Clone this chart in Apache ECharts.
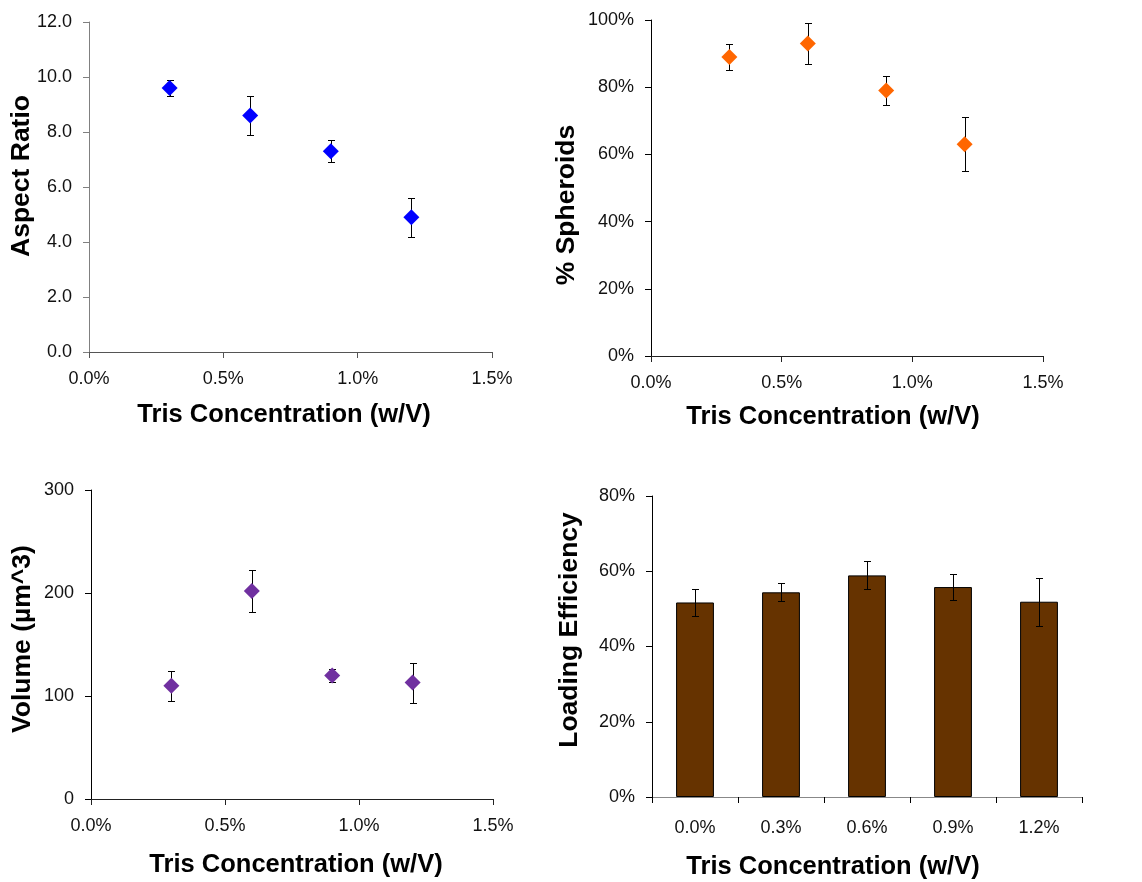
<!DOCTYPE html>
<html>
<head>
<meta charset="utf-8">
<script src="https://cdn.jsdelivr.net/npm/echarts@6/dist/echarts.min.js"></script>
<style>
  html, body { margin: 0; padding: 0; background: #fff; }
  #chart { width: 1142px; height: 882px; }
</style>
</head>
<body>
<div id="chart"></div>
<script>
// Tris concentration (% w/V) used for the scatter panels
const trisConc = [0.3, 0.6, 0.9, 1.2];

// Aspect ratio (mean, error)
const aspectRatio = [9.6, 8.6, 7.3, 4.9];
const aspectRatioErr = [0.28, 0.7, 0.4, 0.7];

// Percentage of spheroids (mean, error)
const spheroids = [89, 93, 79, 63];
const spheroidsErr = [4, 6, 4.4, 8];

// Particle volume in µm^3 (mean, error)
const volume = [110, 202, 120, 113];
const volumeErr = [14.5, 20, 6, 19.5];

// Loading efficiency per Tris concentration category
const loadingCats = ['0.0%', '0.3%', '0.6%', '0.9%', '1.2%'];
const loading = [51.7, 54.4, 58.9, 55.8, 51.9];
const loadingErr = [3.6, 2.4, 3.7, 3.5, 6.4];

const FONT = '"Liberation Sans", Arial, sans-serif';

function pairs(xs, ys, es) {
  return ys.map((y, i) => [xs[i], y, es[i]]);
}

// Vertical error bar with short caps
function errorBar(params, api) {
  const x = api.value(0), y = api.value(1), e = api.value(2);
  const hi = api.coord([x, y + e]);
  const lo = api.coord([x, y - e]);
  const cx = Math.round(hi[0]) + 0.5;
  const y1 = Math.round(hi[1]) + 0.5, y2 = Math.round(lo[1]) + 0.5;
  const w = 3.5;
  const st = { stroke: '#000', lineWidth: 1 };
  return {
    type: 'group',
    children: [
      { type: 'line', shape: { x1: cx, y1: y1, x2: cx, y2: y2 }, style: st },
      { type: 'line', shape: { x1: cx - w, y1: y1, x2: cx + w, y2: y1 }, style: st },
      { type: 'line', shape: { x1: cx - w, y1: y2, x2: cx + w, y2: y2 }, style: st }
    ]
  };
}

function valueXAxis(gridIndex, lineColor) {
  return {
    type: 'value', gridIndex: gridIndex, min: 0, max: 1.5, interval: 0.5,
    axisLine: { show: true, onZero: false, lineStyle: { color: lineColor, width: 1 } },
    axisTick: { show: true, length: 6, lineStyle: { color: lineColor } },
    splitLine: { show: false },
    axisLabel: { color: '#111', fontFamily: FONT, fontSize: 18, margin: 18,
      formatter: v => v.toFixed(1) + '%' }
  };
}

function valueYAxis(gridIndex, max, interval, fmt, lineColor) {
  return {
    type: 'value', gridIndex: gridIndex, min: 0, max: max, interval: interval,
    axisLine: { show: true, lineStyle: { color: lineColor, width: 1 } },
    axisTick: { show: true, length: 6, lineStyle: { color: lineColor } },
    splitLine: { show: false },
    axisLabel: { color: '#111', fontFamily: FONT, fontSize: 18, margin: 17, formatter: fmt }
  };
}

function title(text, x, y, vertical, size) {
  return {
    type: 'text', x: x, y: y, rotation: vertical ? Math.PI / 2 : 0,
    style: { text: text, fill: '#000', font: 'bold ' + size + 'px ' + FONT,
      textAlign: 'center', textVerticalAlign: 'middle' }
  };
}

const chart = echarts.init(document.getElementById('chart'), null, { renderer: 'canvas' });

const option = {
  backgroundColor: '#fff',
  animation: false,
  grid: [
    { left: 89, top: 22, width: 403, height: 330 },
    { left: 651, top: 20, width: 392, height: 336 },
    { left: 91, top: 490, width: 402, height: 309 },
    { left: 652, top: 496, width: 430, height: 301 }
  ],
  xAxis: [
    valueXAxis(0, '#555'),
    valueXAxis(1, '#222'),
    valueXAxis(2, '#222'),
    {
      type: 'category', gridIndex: 3, data: loadingCats, boundaryGap: true,
      axisLine: { show: true, lineStyle: { color: '#888' } },
      axisTick: { show: true, length: 6, lineStyle: { color: '#000' } },
      axisLabel: { color: '#111', fontFamily: FONT, fontSize: 18, margin: 22 }
    }
  ],
  yAxis: [
    valueYAxis(0, 12, 2, v => v.toFixed(1), '#808080'),
    valueYAxis(1, 100, 20, v => v + '%', '#000'),
    valueYAxis(2, 300, 100, v => String(v), '#000'),
    valueYAxis(3, 80, 20, v => v + '%', '#000')
  ],
  graphic: [
    title('Tris Concentration (w/V)', 284, 415, false, 25.5),
    title('Aspect Ratio', 22, 176, true, 26.5),
    title('Tris Concentration (w/V)', 833, 417, false, 25.5),
    title('% Spheroids', 567, 205, true, 26.5),
    title('Tris Concentration (w/V)', 296, 865, false, 25.5),
    title('Volume (µm^3)', 23, 639, true, 26.5),
    title('Tris Concentration (w/V)', 833, 867, false, 25.5),
    title('Loading Efficiency', 570, 630, true, 26.5)
  ],
  series: [
    { type: 'custom', xAxisIndex: 0, yAxisIndex: 0, z: 1, renderItem: errorBar,
      data: pairs(trisConc, aspectRatio, aspectRatioErr) },
    { type: 'scatter', xAxisIndex: 0, yAxisIndex: 0, z: 3, symbol: 'diamond', symbolSize: 16,
      itemStyle: { color: '#0000FF', opacity: 1 }, data: trisConc.map((x, i) => [x, aspectRatio[i]]) },

    { type: 'custom', xAxisIndex: 1, yAxisIndex: 1, z: 1, renderItem: errorBar,
      data: pairs(trisConc, spheroids, spheroidsErr) },
    { type: 'scatter', xAxisIndex: 1, yAxisIndex: 1, z: 3, symbol: 'diamond', symbolSize: 16,
      itemStyle: { color: '#FF6600', opacity: 1 }, data: trisConc.map((x, i) => [x, spheroids[i]]) },

    { type: 'custom', xAxisIndex: 2, yAxisIndex: 2, z: 1, renderItem: errorBar,
      data: pairs(trisConc, volume, volumeErr) },
    { type: 'scatter', xAxisIndex: 2, yAxisIndex: 2, z: 3, symbol: 'diamond', symbolSize: 16,
      itemStyle: { color: '#7030A0', opacity: 1 }, data: trisConc.map((x, i) => [x, volume[i]]) },

    { type: 'bar', xAxisIndex: 3, yAxisIndex: 3, z: 2, barWidth: '44%', data: loading,
      itemStyle: { color: '#663300', borderColor: '#000', borderWidth: 1 } },
    { type: 'custom', xAxisIndex: 3, yAxisIndex: 3, z: 4, renderItem: errorBar,
      data: loading.map((v, i) => [i, v, loadingErr[i]]) }
  ]
};

chart.setOption(option);
</script>
</body>
</html>
